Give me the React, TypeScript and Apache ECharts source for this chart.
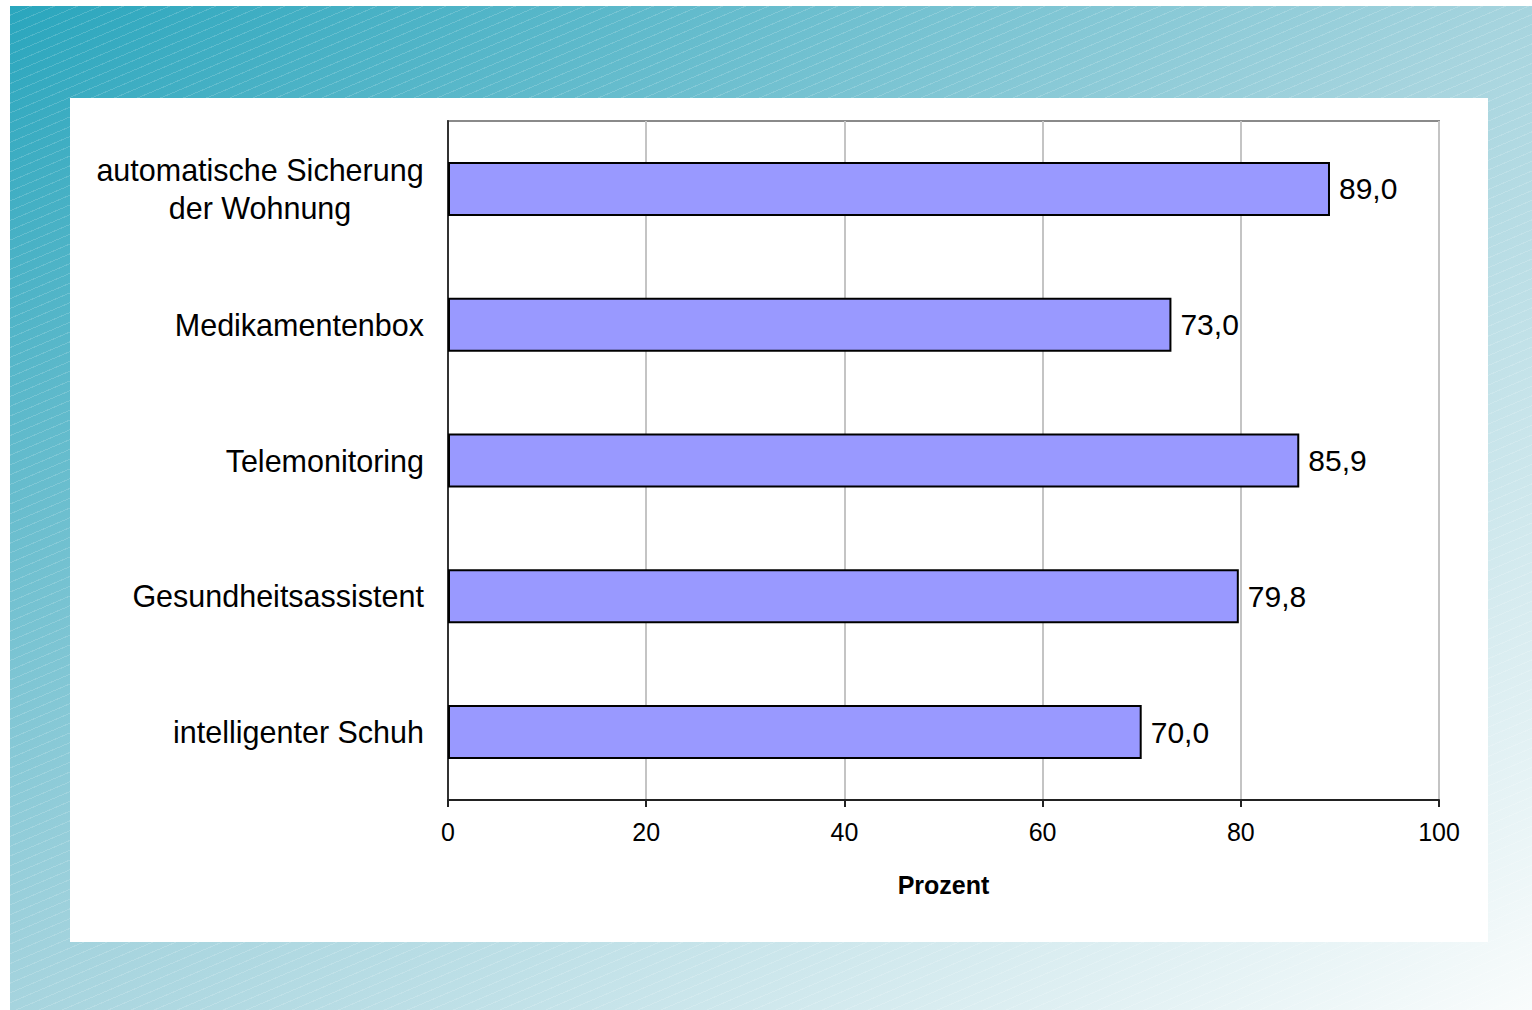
import React, { useEffect, useRef } from "react";
import * as echarts from "echarts";

const categories = [
  "automatische Sicherung\nder Wohnung",
  "Medikamentenbox",
  "Telemonitoring",
  "Gesundheitsassistent",
  "intelligenter Schuh",
];
const values = [89.0, 73.0, 85.9, 79.8, 70.0];
const xTicks = { min: 0, max: 100, interval: 20 };
const axisTitle = "Prozent";

export default function App() {
  const ref = useRef<HTMLDivElement>(null);
  useEffect(() => {
    if (!ref.current) return;
    const chart = echarts.init(ref.current, undefined, { renderer: "svg" });
    const font = "'Liberation Sans', Arial, sans-serif";
    chart.setOption({
      animation: false,
      backgroundColor: "transparent",
      textStyle: { fontFamily: font },
      graphic: [
        {
          type: "rect",
          shape: { x: 70, y: 98, width: 1418, height: 844 },
          style: { fill: "#ffffff" },
          z: -10,
          silent: true,
        },
      ],
      grid: {
        left: 448,
        right: 93,
        top: 121,
        bottom: 210,
        show: true,
        borderColor: "#8a8a8a",
        borderWidth: 2,
        backgroundColor: "#ffffff",
      },
      xAxis: {
        type: "value",
        min: xTicks.min,
        max: xTicks.max,
        interval: xTicks.interval,
        name: axisTitle,
        nameLocation: "middle",
        nameGap: 72,
        nameTextStyle: { fontSize: 25, fontWeight: "bold", color: "#000", fontFamily: font },
        axisLine: { show: true, lineStyle: { color: "#222", width: 2 } },
        axisTick: { show: true, length: 7, lineStyle: { color: "#222", width: 2 } },
        axisLabel: { fontSize: 25, color: "#000", margin: 19, fontFamily: font },
        splitLine: { show: true, lineStyle: { color: "#c4c4c4", width: 2 } },
      },
      yAxis: {
        type: "category",
        data: categories,
        inverse: true,
        axisLine: { show: true, lineStyle: { color: "#333", width: 2 } },
        axisTick: { show: false },
        splitLine: { show: false },
        axisLabel: {
          color: "#000",
          fontSize: 30.5,
          margin: 24,
          lineHeight: 38,
          fontFamily: font,
          formatter: (v: string) =>
            v.includes("\n")
              ? v.split("\n").map((s) => `{c|${s}}`).join("\n")
              : v,
          rich: {
            c: { fontSize: 30.5, lineHeight: 38, width: 328, align: "center", color: "#000", fontFamily: font },
          },
        },
      },
      series: [
        {
          type: "bar",
          data: values,
          barWidth: 54,
          itemStyle: { color: "#9999FF", borderColor: "#000", borderWidth: 2 },
          label: {
            show: true,
            position: "right",
            distance: 9,
            fontSize: 30,
            color: "#000",
            fontFamily: font,
            formatter: (p: any) => Number(p.value).toFixed(1).replace(".", ","),
          },
        },
      ],
    });
    return () => chart.dispose();
  }, []);

  return (
    <div style={{ position: "fixed", left: 0, top: 0, width: 1532, height: 1010, background: "#ffffff", overflow: "hidden" }}>
      <div
        style={{
          position: "absolute",
          left: 10,
          top: 6,
          width: 1522,
          height: 1004,
          background:
            "repeating-linear-gradient(157deg, rgba(255,255,255,0) 0px, rgba(255,255,255,0) 8px, rgba(255,255,255,0.16) 8px, rgba(255,255,255,0.16) 9px), linear-gradient(to bottom right, #2aa6bd 0%, #a6d4de 50%, #f9fcfc 100%)",
        }}
      />
      <div ref={ref} style={{ position: "absolute", left: 0, top: 0, width: 1532, height: 1010 }} />
    </div>
  );
}
